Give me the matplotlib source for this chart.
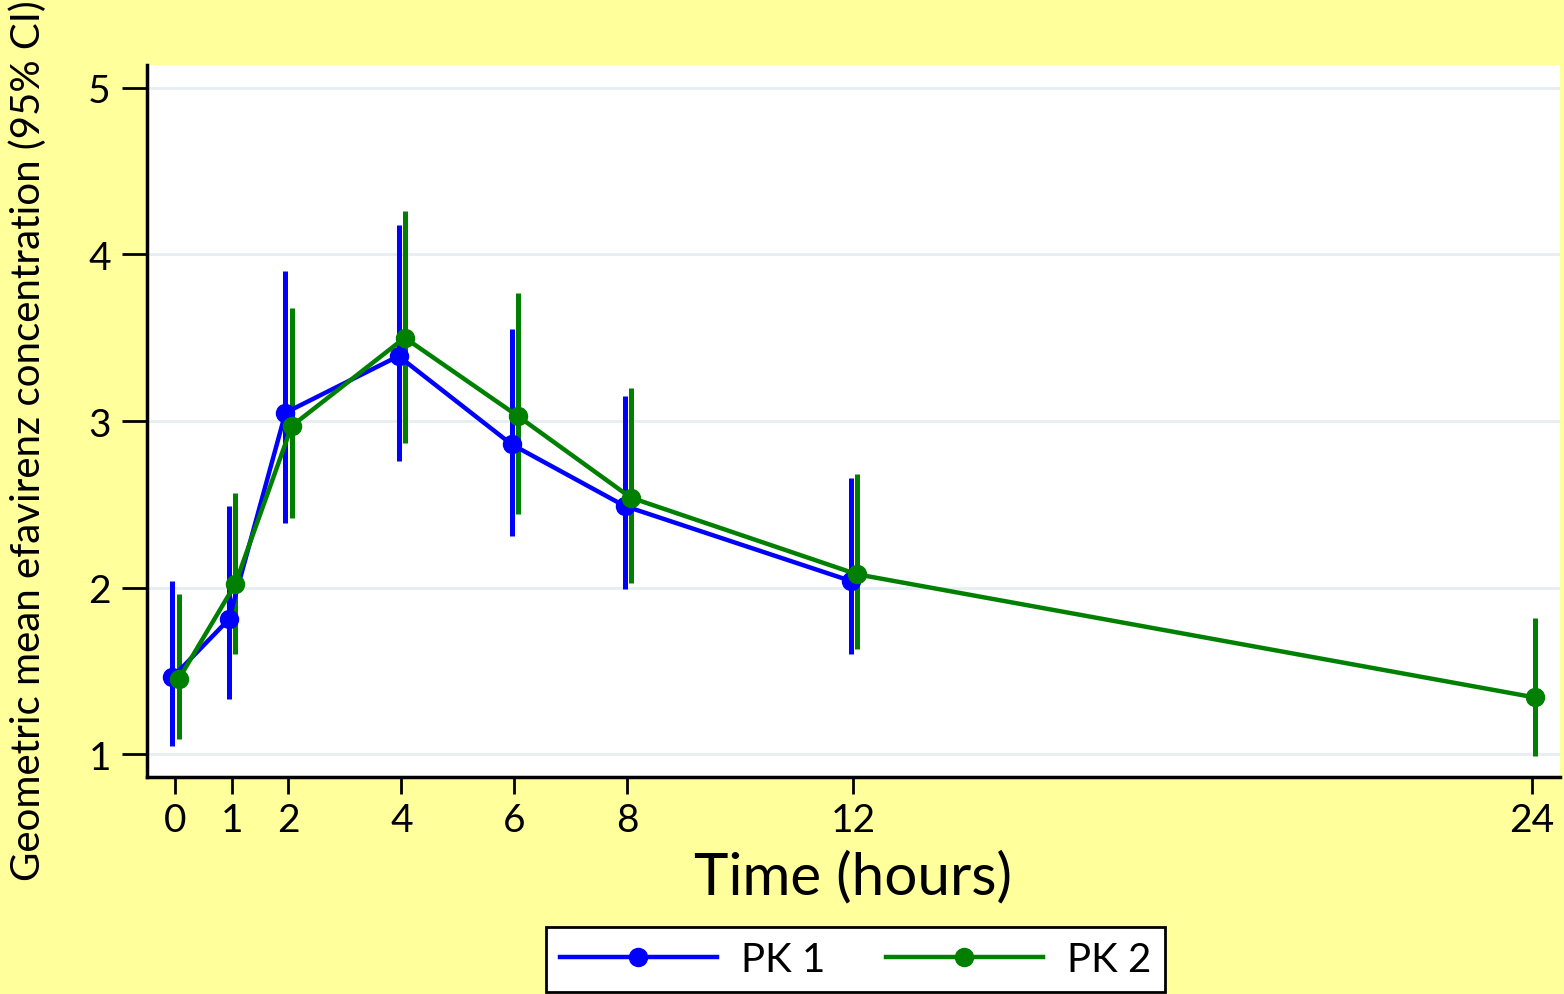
import matplotlib
matplotlib.use("Agg")
import matplotlib.pyplot as plt
import numpy as np

# data
hours = [0, 1, 2, 4, 6, 8, 12, 24]
tick_labels = ["0", "1", "2", "4", "6", "8", "12", "24"]

pk1_time = [0, 1, 2, 4, 6, 8, 12]
pk1_mean = [1.46, 1.81, 3.05, 3.39, 2.86, 2.49, 2.04]
pk1_low = [1.05, 1.33, 2.39, 2.76, 2.31, 1.99, 1.60]
pk1_high = [2.04, 2.49, 3.90, 4.18, 3.55, 3.15, 2.66]

pk2_time = [0, 1, 2, 4, 6, 8, 12, 24]
pk2_mean = [1.45, 2.02, 2.97, 3.50, 3.03, 2.54, 2.08, 1.34]
pk2_low = [1.09, 1.60, 2.42, 2.87, 2.44, 2.03, 1.63, 0.99]
pk2_high = [1.96, 2.57, 3.68, 4.26, 3.77, 3.20, 2.68, 1.82]

plt.rcParams['font.family'] = ['Lato', 'DejaVu Sans']

fig = plt.figure(figsize=(15.64, 9.95), dpi=100, facecolor='#FFFF9C')
ax = fig.add_axes([0.094, 0.218, 0.9034, 0.7157])
ax.set_facecolor('white')

def draw(t, m, lo, hi, color, shift, label):
    x = np.array(t) + shift
    m = np.array(m)
    err = [m - np.array(lo), np.array(hi) - m]
    ax.errorbar(x, m, yerr=err, fmt='none', ecolor=color, elinewidth=3.6, capsize=0, zorder=3)
    ax.plot(x, m, color=color, lw=3.2, marker='o', ms=13, label=label, zorder=4)

draw(pk1_time, pk1_mean, pk1_low, pk1_high, '#0000FF', -0.05, 'PK 1')
draw(pk2_time, pk2_mean, pk2_low, pk2_high, '#008000', 0.06, 'PK 2')

ax.set_xlim(-0.5, 24.5)
ax.set_ylim(0.862, 5.138)
ax.set_xticks(hours)
ax.set_xticklabels(tick_labels)
ax.set_yticks([1, 2, 3, 4, 5])
ax.grid(axis='y', color='#E6EEF1', lw=2, zorder=0)
ax.set_axisbelow(True)

for s in ['top', 'right']:
    ax.spines[s].set_visible(False)
for s in ['left', 'bottom']:
    ax.spines[s].set_linewidth(2.5)

ax.tick_params(axis='y', length=18, width=2, labelsize=28, pad=8)
ax.tick_params(axis='x', length=12, width=2, labelsize=28, pad=6)

ax.set_xlabel('Time (hours)', fontsize=42, labelpad=8)
ax.set_ylabel('Geometric mean efavirenz concentration (95% CI)', fontsize=29)
ax.yaxis.set_label_coords(-0.071, 0.474)

leg = fig.legend(loc='lower center', bbox_to_anchor=(0.547, -0.018), ncol=2,
                 fontsize=29, handlelength=3.9, columnspacing=1.5,
                 frameon=True, fancybox=False, edgecolor='black',
                 framealpha=1, borderpad=0.35, handletextpad=0.6)
leg.get_frame().set_linewidth(2)

fig.savefig('out.png', dpi=100, facecolor=fig.get_facecolor())
